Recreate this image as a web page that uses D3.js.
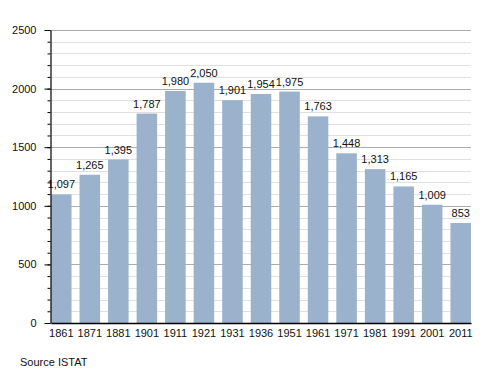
<!DOCTYPE html>
<html>
<head>
<meta charset="utf-8">
<script src="https://cdn.jsdelivr.net/npm/d3@7"></script>
<style>
  body { margin: 0; background: #fff; }
  text { font-family: "Liberation Sans", Arial, sans-serif; }
</style>
</head>
<body>
<div id="plot"></div>
<script>
// Width and height
const w = 500;
const h = 373;
const margin = {top: 30, right: 29, bottom: 50, left: 51};
const innerWidth = w - margin.left - margin.right;
const innerHeight = 323 - margin.top;

// data
const years = ["1861", "1871", "1881", "1901", "1911", "1921", "1931", "1936",
  "1951", "1961", "1971", "1981", "1991", "2001", "2011"];
const population = [1097, 1265, 1395, 1787, 1980, 2050, 1901, 1954,
  1975, 1763, 1448, 1313, 1165, 1009, 853];
const yTicks = [0, 500, 1000, 1500, 2000, 2500];

const svg = d3.select("div#plot")
  .append("svg")
    .attr("width", w)
    .attr("height", h);

const plot = svg.append("g")
  .attr("transform", `translate (${margin.left}, ${margin.top})`);

const xScale = d3.scaleBand()
  .domain(years)
  .range([0, innerWidth])
  .paddingInner(0.28)
  .paddingOuter(0);

const yScale = d3.scaleLinear()
  .domain([0, 2500])
  .range([innerHeight, 0]);

// gridlines (minor every 100, major every 500)
const minor = d3.range(100, 2501, 100).filter(d => d % 500 != 0);
plot.selectAll("line.minor")
  .data(minor)
  .enter()
  .append("line")
    .attr("x1", 0)
    .attr("x2", innerWidth)
    .attr("y1", d => Math.round(yScale(d)) + 0.5)
    .attr("y2", d => Math.round(yScale(d)) + 0.5)
    .attr("stroke", "#e0e0e0");

plot.selectAll("line.major")
  .data(yTicks.slice(1))
  .enter()
  .append("line")
    .attr("x1", 0)
    .attr("x2", innerWidth)
    .attr("y1", d => Math.round(yScale(d)) + 0.5)
    .attr("y2", d => Math.round(yScale(d)) + 0.5)
    .attr("stroke", "#ababab");

// bars
plot.selectAll("rect")
  .data(population)
  .enter()
  .append("rect")
    .attr("x", (d, i) => xScale(years[i]))
    .attr("y", d => yScale(d))
    .attr("width", xScale.bandwidth())
    .attr("height", d => innerHeight - yScale(d))
    .attr("fill", "#9ab2cb");

// value labels
plot.selectAll("text.val")
  .data(population)
  .enter()
  .append("text")
    .attr("x", (d, i) => xScale(years[i]) + xScale.bandwidth() / 2)
    .attr("y", d => yScale(d) - 6)
    .attr("text-anchor", "middle")
    .style("font-size", "11px")
    .attr("fill", "#111")
    .text(d => d3.format(",")(d));

// y axis: minor ticks
const yMinor = d3.axisLeft(yScale)
  .tickValues(d3.range(0, 2501, 100))
  .tickSize(3)
  .tickFormat("");
plot.append("g")
  .attr("transform", "translate(-0.5, 0)")
  .call(yMinor)
  .call(g => g.select(".domain").remove());

// y axis: major ticks + labels
const yAxis = d3.axisLeft(yScale)
  .tickValues(yTicks)
  .tickSize(6)
  .tickSizeOuter(0)
  .tickPadding(8)
  .tickFormat(d3.format("d"));
plot.append("g")
  .attr("id", "yaxis")
  .attr("transform", "translate(-0.5, 0)")
  .call(yAxis)
  .call(g => g.selectAll("text").style("font-size", "11px").attr("fill", "#111").attr("font-family", "Liberation Sans, Arial, sans-serif"))
  .call(g => g.select(".domain").attr("stroke", "#000").attr("stroke-width", 1.2));

// x axis
const xAxis = d3.axisBottom(xScale)
  .tickSize(0)
  .tickPadding(6);
plot.append("g")
  .attr("id", "xaxis")
  .attr("transform", `translate (0, ${innerHeight})`)
  .call(xAxis)
  .call(g => g.selectAll("text").style("font-size", "11px").attr("fill", "#111").attr("font-family", "Liberation Sans, Arial, sans-serif"))
  .call(g => g.select(".domain").attr("stroke", "#000").attr("stroke-width", 1.5));

// source
svg.append("text")
  .attr("x", 20)
  .attr("y", 366)
  .style("font-size", "11px")
  .attr("fill", "#111")
  .text("Source ISTAT");
</script>
</body>
</html>
